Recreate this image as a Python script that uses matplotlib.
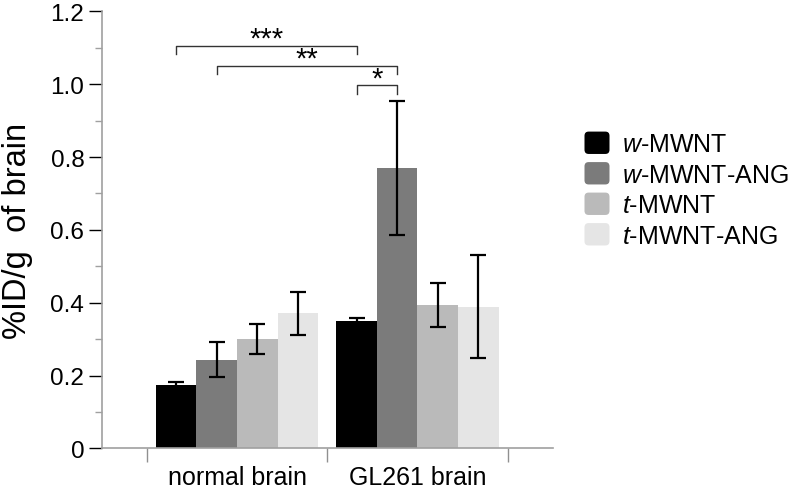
import numpy as np
import matplotlib
matplotlib.use("Agg")
import matplotlib.pyplot as plt
from matplotlib.patches import FancyBboxPatch, Patch
from matplotlib.legend_handler import HandlerPatch

plt.rcParams['font.family'] = ['Liberation Sans', 'DejaVu Sans']
plt.rcParams['mathtext.fontset'] = 'custom'
plt.rcParams['mathtext.it'] = 'Liberation Sans:italic'
plt.rcParams['mathtext.rm'] = 'Liberation Sans'

groups = ['normal brain', 'GL261 brain']
series = [r'$\it{w}$-MWNT', r'$\it{w}$-MWNT-ANG', r'$\it{t}$-MWNT', r'$\it{t}$-MWNT-ANG']
colors = ['#000000', '#7b7b7b', '#bababa', '#e5e5e5']
means = [[0.174, 0.350],
         [0.243, 0.769],
         [0.301, 0.394],
         [0.371, 0.389]]
errs = [[0.009, 0.007],
        [0.048, 0.184],
        [0.041, 0.061],
        [0.059, 0.141]]
# significance brackets: (group, series) pairs, line height, label
brackets = [((0, 0), (1, 0), 1.106, '***'),
            ((0, 1), (1, 1), 1.051, '**'),
            ((1, 0), (1, 1), 0.998, '*')]

fig = plt.figure(figsize=(7.92, 4.89), dpi=100)
ax = fig.add_axes([0.1284, 0.0808, 0.698 - 0.1284, 0.9748 - 0.0808])

x = np.arange(len(groups))
w = 0.225
offsets = (np.arange(len(series)) - 1.5) * w

for i in range(len(series)):
    ax.bar(x + offsets[i], means[i], w, color=colors[i], label=series[i], zorder=2)
    ax.errorbar(x + offsets[i], means[i], yerr=errs[i], fmt='none', ecolor='black',
                elinewidth=1.6, capsize=5.5, capthick=1.6, zorder=3)

for (g1, s1), (g2, s2), h, lab in brackets:
    x1 = x[g1] + offsets[s1]
    x2 = x[g2] + offsets[s2]
    ax.plot([x1, x1, x2, x2], [h - 0.024, h, h, h - 0.024], color='#333333', lw=1.0,
            clip_on=False, zorder=4)
    ax.text((x1 + x2) / 2, h - 0.004, lab, ha='center', va='baseline', fontsize=21)

ax.set_xlim(-0.75, 1.75)
ax.set_ylim(0, 1.2)
ax.set_yticks(np.arange(0, 1.21, 0.2))
ax.set_yticklabels(['0', '0.2', '0.4', '0.6', '0.8', '1.0', '1.2'])
ax.set_yticks(np.arange(0.1, 1.2, 0.2), minor=True)
ax.set_xticks(x)
ax.set_xticklabels(groups)
ax.set_xticks([-0.5, 0.5, 1.5], minor=True)

ax.tick_params(axis='y', which='major', length=9.5, width=1.0, color='black',
               labelsize=17.5, pad=3)
ax.tick_params(axis='y', which='minor', length=5, width=1.0, color='#a0a0a0')
ax.tick_params(axis='x', which='major', length=0, labelsize=18, pad=12)
ax.tick_params(axis='x', which='minor', length=10, width=1.0, color='#909090')

for side in ['top', 'right']:
    ax.spines[side].set_visible(False)
for side in ['left', 'bottom']:
    ax.spines[side].set_color('#a0a0a0')
    ax.spines[side].set_linewidth(1.2)

ax.set_ylabel('%ID/g  of brain', fontsize=23.5)
ax.yaxis.set_label_coords(-0.152, 0.5)


class RoundHandler(HandlerPatch):
    def create_artists(self, legend, orig_handle, xdescent, ydescent, width, height,
                       fontsize, trans):
        p = FancyBboxPatch((-xdescent, -ydescent), width, height,
                           boxstyle='round,pad=0,rounding_size=3',
                           facecolor=orig_handle.get_facecolor(), edgecolor='none',
                           transform=trans)
        return [p]


handles = [Patch(facecolor=c) for c in colors]
fig.legend(handles, series, loc='center left', bbox_to_anchor=(0.738, 0.61),
           frameon=False, fontsize=18, handlelength=1.0, handleheight=1.0,
           handletextpad=0.5, labelspacing=0.23, borderpad=0, borderaxespad=0,
           handler_map={Patch: RoundHandler()})

fig.savefig('out.png', dpi=100)
